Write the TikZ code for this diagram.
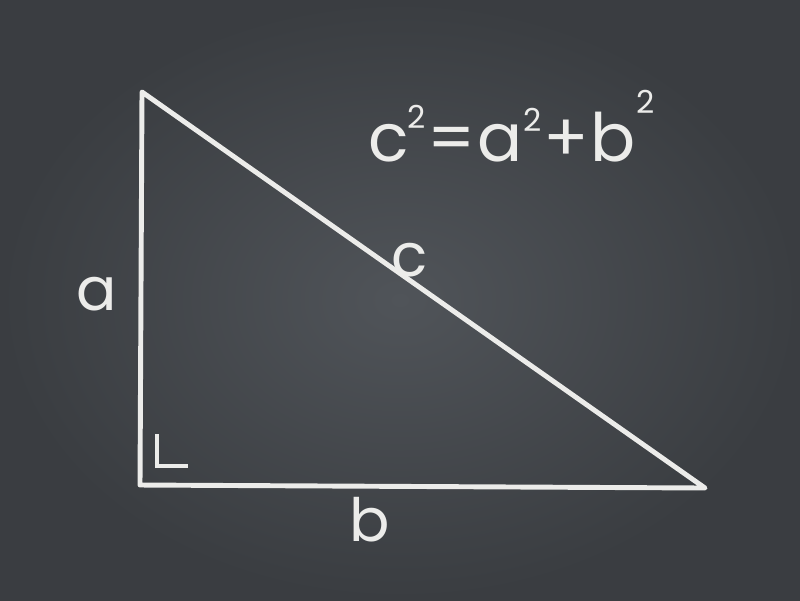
\documentclass[tikz,border=0pt]{standalone}
\usepackage{fontspec}
\setmainfont{Poppins}
\usepackage{tikz}
\usetikzlibrary{positioning, calc}
\usepackage{xcolor}
\definecolor{board}{RGB}{80,84,89}
\definecolor{boarddark}{RGB}{58,61,65}
\definecolor{chalk}{RGB}{236,236,234}
\newcommand{\sq}[1]{\raisebox{#1}{\fontsize{18}{18}\selectfont 2}}

\begin{document}
\begin{tikzpicture}[x=0.02cm, y=-0.02cm]
  % Board
  \shade[inner color=board, outer color=boarddark] (0,0) rectangle (800,600);
  \useasboundingbox (0,0) rectangle (800,600);
  % Triangle
  \coordinate (top) at (142,92);
  \coordinate (corner) at (140,485);
  \coordinate (right) at (705,488);
  \draw[chalk, line width=2.8pt, line join=round, line cap=round] (top) -- (corner) -- (right) -- cycle;
  % Right angle mark
  \draw[chalk, line width=2pt] (157,434) -- (157,466) -- (188,466);
  % Side labels
  \node[chalk] (la) at (97,294) {\fontsize{34}{34}\selectfont a};
  \node[chalk] (lc) at (410,260) {\fontsize{34}{34}\selectfont c};
  \node[chalk] (lb) at (370,520) {\fontsize{34}{34}\selectfont b};
  % Formula
  \node[chalk] (formula) at (512,126) {\fontsize{38}{38}\selectfont c\kern-1pt\sq{0.5em}\kern1pt=\kern1pt a\kern0.5pt\sq{0.45em}\kern1pt+\kern1pt b\kern0.5pt\sq{0.72em}};
\end{tikzpicture}
\end{document}
